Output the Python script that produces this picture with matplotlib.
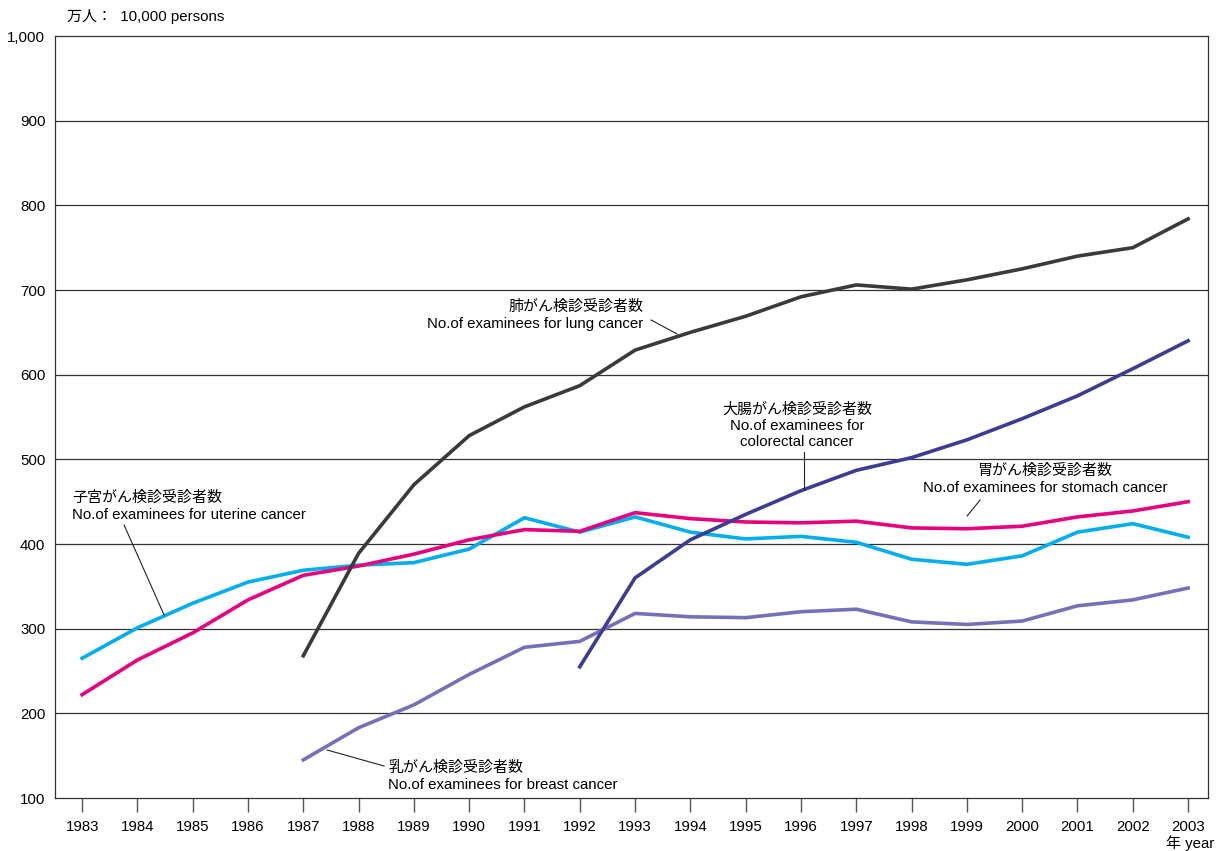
import matplotlib
matplotlib.use("Agg")
import matplotlib.pyplot as plt

plt.rcParams['font.family'] = ['Liberation Sans', 'Noto Sans CJK JP', 'DejaVu Sans']

years = list(range(1983, 2004))

lung_years = list(range(1987, 2004))
lung = [268, 389, 470, 528, 562, 587, 629, 650, 669, 692, 706, 701, 712, 725, 740, 750, 784]

colorectal_years = list(range(1992, 2004))
colorectal = [255, 360, 405, 435, 463, 487, 502, 523, 548, 575, 607, 640]

stomach = [222, 263, 295, 334, 363, 374, 388, 405, 417, 415, 437, 430, 426, 425, 427,
           419, 418, 421, 432, 439, 450]

uterine = [265, 301, 330, 355, 369, 375, 378, 394, 431, 414, 432, 414, 406, 409, 402,
           382, 376, 386, 414, 424, 408]

breast_years = list(range(1987, 2004))
breast = [145, 183, 210, 246, 278, 285, 318, 314, 313, 320, 323, 308, 305, 309, 327, 334, 348]

yticks = [100, 200, 300, 400, 500, 600, 700, 800, 900, 1000]
ytick_labels = ['100', '200', '300', '400', '500', '600', '700', '800', '900', '1,000']

FS = 10.8

fig = plt.figure(figsize=(12.19, 8.51), dpi=100)
ax = fig.add_axes([55/1219, 53/851, 1153/1219, 762/851])

ax.set_xlim(1982.51, 2003.36)
ax.set_ylim(100, 1000)

for y in yticks[1:-1]:
    ax.axhline(y, color='#333333', lw=0.9, zorder=1)

lw = 2.6
ax.plot(years, uterine, color='#00aeef', lw=lw, zorder=3, solid_joinstyle='round')
ax.plot(years, stomach, color='#e6007e', lw=lw, zorder=3, solid_joinstyle='round')
ax.plot(breast_years, breast, color='#7670b8', lw=lw, zorder=3, solid_joinstyle='round')
ax.plot(colorectal_years, colorectal, color='#3c3c94', lw=lw, zorder=4, solid_joinstyle='round')
ax.plot(lung_years, lung, color='#3a3a3a', lw=lw, zorder=5, solid_joinstyle='round')

ax.set_xticks(years)
ax.set_xticklabels([str(y) for y in years], fontsize=FS)
ax.set_yticks(yticks)
ax.set_yticklabels(ytick_labels, fontsize=FS)
ax.tick_params(axis='x', direction='out', length=10, width=1, color='#555555', pad=6)
ax.tick_params(axis='y', length=0, pad=7)
for s in ax.spines.values():
    s.set_color('#333333')
    s.set_linewidth(0.9)


def px2data(px, py):
    return (1983 + (px - 82) / 55.3, 100 + (798 - py) / 0.8467)


def label(px, py, text, ha='left'):
    x, y = px2data(px, py)
    ax.text(x, y, text, ha=ha, va='center', fontsize=FS, linespacing=1.3, zorder=6)


def leader(p1, p2):
    x1, y1 = px2data(*p1)
    x2, y2 = px2data(*p2)
    ax.plot([x1, x2], [y1, y2], color='#222222', lw=0.8, zorder=6)


label(643, 315, '肺がん検診受診者数\nNo.of examinees for lung cancer', ha='right')
leader((651, 320), (677, 334))

ax.text(*px2data(797, 426), '大腸がん検診受診者数\nNo.of examinees for\ncolorectal cancer',
        ha='center', va='center', fontsize=FS, linespacing=1.2, zorder=6)
leader((804, 452), (804, 490))

ax.text(*px2data(1045, 479), '胃がん検診受診者数\nNo.of examinees for stomach cancer',
        ha='center', va='center', fontsize=FS, linespacing=1.3, zorder=6)
leader((980, 500), (967, 516))

label(72, 506, '子宮がん検診受診者数\nNo.of examinees for uterine cancer')
leader((124, 525), (164, 615))

label(388, 776, '乳がん検診受診者数\nNo.of examinees for breast cancer')
leader((327, 750), (384, 766))

fig.text(67/1219, 1 - 16/851, '万人：  10,000 persons', ha='left', va='center', fontsize=FS)
fig.text(1190/1219, 1 - 843/851, '年 year', ha='center', va='center', fontsize=FS)

fig.savefig('out.png', dpi=100)
